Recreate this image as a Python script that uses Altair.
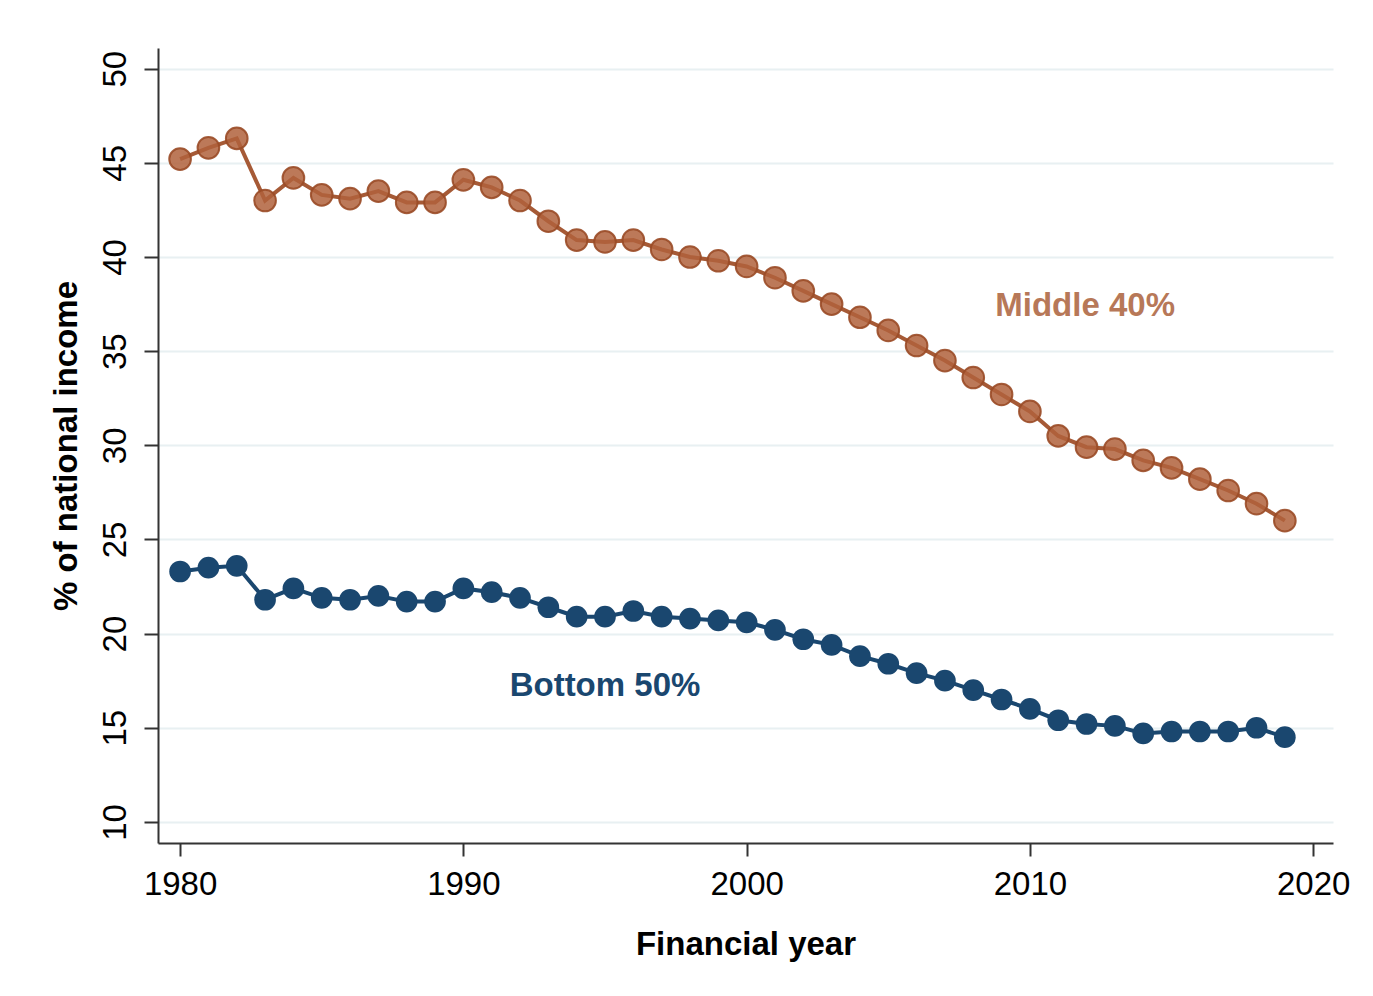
import altair as alt
import pandas as pd

years = list(range(1980, 2020))
middle_40 = [45.2, 45.8, 46.3, 43.0, 44.2, 43.3, 43.1, 43.5, 42.9, 42.9,
             44.1, 43.7, 43.0, 41.9, 40.9, 40.8, 40.9, 40.4, 40.0, 39.8,
             39.5, 38.9, 38.2, 37.5, 36.8, 36.1, 35.3, 34.5, 33.6, 32.7,
             31.8, 30.5, 29.9, 29.8, 29.2, 28.8, 28.2, 27.6, 26.9, 26.0]
bottom_50 = [23.3, 23.5, 23.6, 21.8, 22.4, 21.9, 21.8, 22.0, 21.7, 21.7,
             22.4, 22.2, 21.9, 21.4, 20.9, 20.9, 21.2, 20.9, 20.8, 20.7,
             20.6, 20.2, 19.7, 19.4, 18.8, 18.4, 17.9, 17.5, 17.0, 16.5,
             16.0, 15.4, 15.2, 15.1, 14.7, 14.8, 14.8, 14.8, 15.0, 14.5]

x_ticks = [1980, 1990, 2000, 2010, 2020]
y_ticks = [10, 15, 20, 25, 30, 35, 40, 45, 50]

label_text = ["Middle 40%", "Bottom 50%"]
label_year = [2011.95, 1995.0]
label_value = [37.4, 17.2]

mid_df = pd.DataFrame({"year": years, "value": middle_40})
bot_df = pd.DataFrame({"year": years, "value": bottom_50})
lab_mid = pd.DataFrame({"year": [label_year[0]], "value": [label_value[0]], "text": [label_text[0]]})
lab_bot = pd.DataFrame({"year": [label_year[1]], "value": [label_value[1]], "text": [label_text[1]]})

FONT = "Liberation Sans"
MID_LINE = "#a65a36"
MID_FILL = "#b0623c"
MID_TEXT = "#b77858"
BOT = "#1a476f"

xs = alt.Scale(domain=[1979.22, 2020.7], nice=False, zero=False)
ys = alt.Scale(domain=[8.88, 51.1], nice=False, zero=False)

x_enc = alt.X("year:Q", scale=xs, axis=alt.Axis(
    values=x_ticks, format="d", title="Financial year", grid=False,
    labelFont=FONT, labelFontSize=33, labelColor="#000", labelPadding=12,
    tickSize=13, tickWidth=2, tickColor="#333", domainColor="#333", domainWidth=2,
    titleFont=FONT, titleFontSize=33, titleFontWeight="bold", titleColor="#000",
    titlePadding=27))
y_enc = alt.Y("value:Q", scale=ys, axis=alt.Axis(
    values=y_ticks, title="% of national income", grid=True,
    gridColor="#e8f0f2", gridWidth=2,
    labelFont=FONT, labelFontSize=33, labelColor="#000", labelAngle=270,
    labelAlign="center", labelBaseline="bottom", labelPadding=12,
    tickSize=14, tickWidth=2, tickColor="#333", domainColor="#333", domainWidth=2,
    titleFont=FONT, titleFontSize=33, titleFontWeight="bold", titleColor="#000",
    titlePadding=16))

mid_line = alt.Chart(mid_df).mark_line(color=MID_LINE, strokeWidth=4).encode(x=x_enc, y=y_enc)
mid_pts = alt.Chart(mid_df).mark_point(
    shape="circle", filled=True, size=470, color=MID_FILL, fillOpacity=0.85,
    stroke="#9a4b27", strokeWidth=2, strokeOpacity=0.9).encode(x="year:Q", y="value:Q")
bot_line = alt.Chart(bot_df).mark_line(color=BOT, strokeWidth=4).encode(x="year:Q", y="value:Q")
bot_pts = alt.Chart(bot_df).mark_point(
    shape="circle", filled=True, size=470, color=BOT, opacity=1).encode(x="year:Q", y="value:Q")

mid_lab = alt.Chart(lab_mid).mark_text(
    font=FONT, fontSize=33, fontWeight="bold", color=MID_TEXT,
    align="center", baseline="middle").encode(x="year:Q", y="value:Q", text="text:N")
bot_lab = alt.Chart(lab_bot).mark_text(
    font=FONT, fontSize=33, fontWeight="bold", color=BOT,
    align="center", baseline="middle").encode(x="year:Q", y="value:Q", text="text:N")

chart = alt.layer(mid_line, mid_pts, bot_line, bot_pts, mid_lab, bot_lab).properties(
    width=1175, height=795,
    background="white",
    autosize=alt.AutoSizeParams(type="none"),
    padding={"left": 150, "top": 40, "right": 20, "bottom": 130},
).configure_view(strokeWidth=0, stroke="transparent")

chart.save("out.html", embed_options={"renderer": "svg", "actions": False})
